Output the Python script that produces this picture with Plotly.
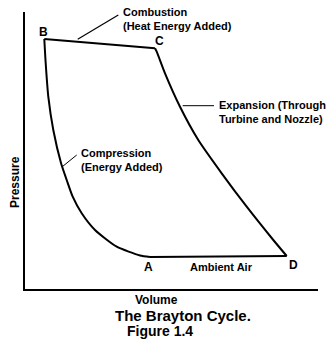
import plotly.graph_objects as go

# Data (arbitrary volume / pressure units)
bc_volume = [19.3, 130.0]
bc_pressure = [250.0, 240.7]

cd_volume = [130.0, 131.7, 140.0, 155.0, 173.3, 196.7, 221.7, 248.3, 261.7]
cd_pressure = [240.7, 237.3, 215.7, 182.3, 149.0, 115.7, 82.3, 49.0, 33.0]

da_volume = [261.7, 125.0]
da_pressure = [33.0, 32.0]

ab_volume = [125.0, 115.0, 91.7, 70.0, 56.7, 47.7, 41.7, 36.0, 28.3, 23.3, 20.7, 19.3]
ab_pressure = [32.0, 33.5, 42.3, 59.0, 75.7, 92.3, 109.0, 126.0, 159.0, 192.3, 225.7, 250.0]

point_labels = ["A", "B", "C", "D"]

W, H = 328, 340
ML, MR, MT, MB = 25, 10, 12, 51
PW, PH = W - ML - MR, H - MT - MB


def px(xp):
    return (xp - ML) / PW


def py(yp):
    return (H - MB - yp) / PH


fig = go.Figure()
line = dict(color="black", width=2)
fig.add_trace(go.Scatter(x=bc_volume, y=bc_pressure, mode="lines", line=line))
fig.add_trace(go.Scatter(x=cd_volume, y=cd_pressure, mode="lines",
                         line=dict(color="black", width=2, shape="spline", smoothing=0.6)))
fig.add_trace(go.Scatter(x=da_volume, y=da_pressure, mode="lines", line=line))
fig.add_trace(go.Scatter(x=ab_volume, y=ab_pressure, mode="lines",
                         line=dict(color="black", width=2, shape="spline", smoothing=0.6)))

FONT = "Liberation Sans, Arial, sans-serif"
ann = []


def text(t, x, y, size=11, xanchor="left", align="left", angle=0):
    ann.append(dict(text=t, x=px(x), y=py(y), xref="paper", yref="paper",
                    showarrow=False, xanchor=xanchor, yanchor="middle", align=align,
                    textangle=angle,
                    font=dict(family=FONT, size=size, color="black", weight="bold")))


# point labels
text(point_labels[0], 148, 267, 12, "center")
text(point_labels[1], 43, 32, 12, "center")
text(point_labels[2], 159, 41, 12, "center")
text(point_labels[3], 293, 265, 12, "center")

text("Combustion<br>(Heat Energy Added)", 121, 19)
text("Compression<br>(Energy Added)", 79, 160)
text("Expansion (Through<br>Turbine and Nozzle)", 217, 112)
text("Ambient Air", 221.7, 267, 11, "center")
text("Pressure", 15, 182, 12, "center", "center", -90)
text("Volume", 156, 300, 12, "center", "center")
text("The Brayton Cycle.", 183, 315, 15, "center", "center")
text("Figure 1.4", 160, 331, 14, "center", "center")

shapes = [
    dict(type="line", xref="x", yref="y", x0=52.7, y0=249.7, x1=93.3, y1=274,
         line=dict(color="black", width=1.2)),
    dict(type="line", xref="x", yref="y", x0=37.3, y0=122.3, x1=51.7, y1=134,
         line=dict(color="black", width=1)),
    dict(type="line", xref="x", yref="y", x0=157.7, y0=183.3, x1=189, y1=183.3,
         line=dict(color="black", width=1)),
]

fig.update_layout(
    width=W, height=H,
    margin=dict(l=ML, r=MR, t=MT, b=MB, pad=0),
    paper_bgcolor="white", plot_bgcolor="white",
    showlegend=False,
    annotations=ann,
    shapes=shapes,
    xaxis=dict(range=[0, PW], showline=True, linecolor="black", linewidth=2,
               showgrid=False, zeroline=False, showticklabels=False, ticks="", fixedrange=True),
    yaxis=dict(range=[0, PH], showline=True, linecolor="black", linewidth=2,
               showgrid=False, zeroline=False, showticklabels=False, ticks="", fixedrange=True),
)

fig.write_html("out.html", config={"displayModeBar": False})
